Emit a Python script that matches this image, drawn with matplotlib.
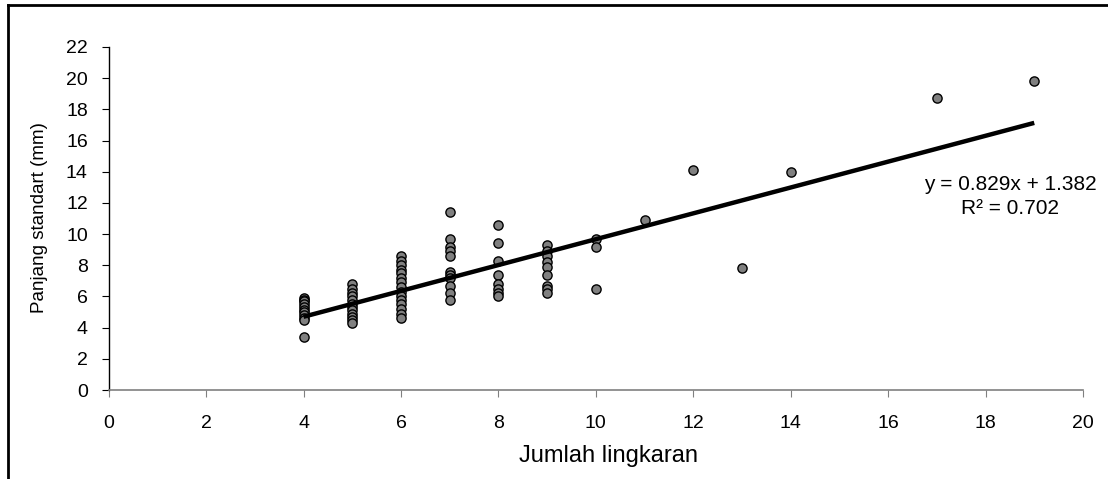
import numpy as np
import matplotlib
matplotlib.use('Agg')
import matplotlib.pyplot as plt
from matplotlib.lines import Line2D

plt.rcParams['font.family'] = ['Liberation Sans', 'DejaVu Sans']

# data
x4 = [5.9, 5.8, 5.7, 5.5, 5.3, 5.1, 5.0, 4.8, 4.6, 4.5, 3.4]
x5 = [6.8, 6.5, 6.2, 6.0, 5.8, 5.5, 5.3, 5.1, 4.9, 4.7, 4.5, 4.3]
x6 = [8.6, 8.3, 8.0, 7.7, 7.5, 7.2, 6.9, 6.6, 6.3, 6.0, 5.8, 5.5, 5.2, 4.9, 4.6]
x7 = [11.4, 9.7, 9.2, 8.9, 8.6, 7.6, 7.4, 7.2, 6.7, 6.2, 5.8]
x8 = [10.6, 9.4, 8.3, 7.4, 6.8, 6.5, 6.2, 6.0]
x9 = [9.3, 8.9, 8.6, 8.2, 7.9, 7.4, 6.7, 6.5, 6.2]
x10 = [9.7, 9.2, 6.5]
others_x = [11, 12, 13, 14, 17, 19]
others_y = [10.9, 14.1, 7.8, 14.0, 18.7, 19.8]

slope = 0.829
intercept = 1.382
r2 = 0.702

cols = {4: x4, 5: x5, 6: x6, 7: x7, 8: x8, 9: x9, 10: x10}
xs = []
ys = []
for k, v in cols.items():
    xs += [k] * len(v)
    ys += v
xs += others_x
ys += others_y
xs = np.array(xs, dtype=float)
ys = np.array(ys)

fig = plt.figure(figsize=(11.08, 4.79), dpi=100)
ax = fig.add_axes([0.0981, 0.1858, 0.8793, 0.7161])

ax.scatter(xs, ys, s=44, facecolor='#808080', edgecolor='black', linewidth=1.0, zorder=3)

xl = np.array([xs.min(), xs.max()])
ax.plot(xl, slope * xl + intercept, color='black', linewidth=3.2, zorder=4,
        solid_capstyle='butt')

ax.set_xlim(0, 20)
ax.set_ylim(0, 22)
ax.set_xticks(range(0, 21, 2))
ax.set_yticks(range(0, 23, 2))

for s in ['top', 'right']:
    ax.spines[s].set_visible(False)
ax.spines['left'].set_color('black')
ax.spines['left'].set_linewidth(1.0)
ax.spines['bottom'].set_color('#808080')
ax.spines['bottom'].set_linewidth(1.2)
ax.tick_params(axis='x', direction='out', length=5, color='#808080', labelsize=14, pad=13)
ax.tick_params(axis='y', direction='out', length=5, color='black', labelsize=14, pad=10)

fig.text(0.549, 0.048, 'Jumlah lingkaran', ha='center', va='center', fontsize=17)
fig.text(0.036, 0.545, 'Panjang standart (mm)', ha='center', va='center', fontsize=13.5,
         rotation=90)

fig.text(0.9116, 0.6138, 'y = %.3fx + %.3f' % (slope, intercept), ha='center', va='center', fontsize=15)
fig.text(0.9116, 0.5637, 'R² = %.3f' % r2, ha='center', va='center', fontsize=15)

# outer frame (top and left)
fig.add_artist(Line2D([0.0075, 1.0], [0.99, 0.99], color='black', linewidth=2.0,
                      transform=fig.transFigure))
fig.add_artist(Line2D([0.0075, 0.0075], [0.0, 0.99], color='black', linewidth=2.0,
                      transform=fig.transFigure))

plt.savefig('out.png', dpi=100)
